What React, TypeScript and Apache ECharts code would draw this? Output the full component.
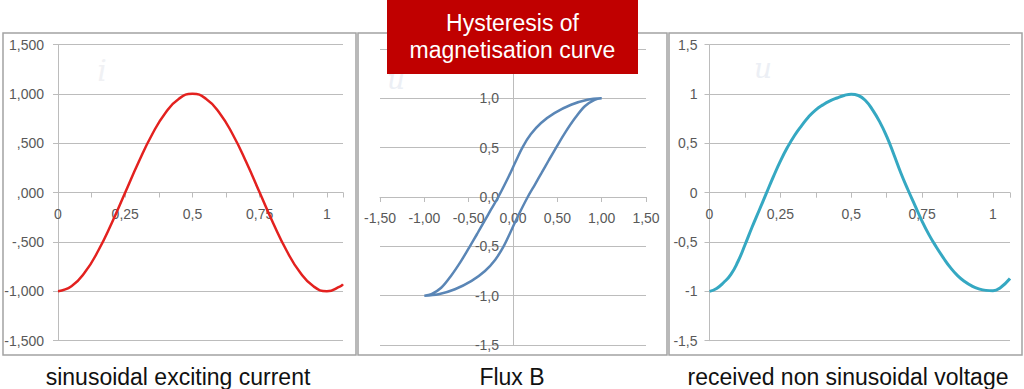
import React, { useEffect, useRef } from "react";
import * as echarts from "echarts";

// ---- Panel 1: sinusoidal exciting current ----
const currentX = [0, 0.05, 0.1, 0.15, 0.2, 0.25, 0.3, 0.35, 0.4, 0.45, 0.5, 0.55, 0.6, 0.65, 0.7, 0.75, 0.8, 0.85, 0.9, 0.95, 1.0, 1.05, 1.06];
const currentY = [-1, -0.951, -0.809, -0.588, -0.309, 0, 0.309, 0.588, 0.809, 0.951, 1, 0.951, 0.809, 0.588, 0.309, 0, -0.309, -0.588, -0.809, -0.951, -1, -0.951, -0.93];
const yLabels1 = ["-1,500", "-1,000", "-,500", ",000", ",500", "1,000", "1,500"];
const xLabels1 = ["0", "0,25", "0,5", "0,75", "1"];

// ---- Panel 2: hysteresis loop (descending branch, then ascending branch) ----
const downX = [1.0, 0.84, 0.655, 0.467, 0.316, 0.2, 0.109, 0.03, -0.05, -0.166, -0.249, -0.324, -0.405, -0.493, -0.588, -0.7, -0.81, -0.92, -1.0];
const downY = [1.0, 0.986, 0.935, 0.85, 0.75, 0.635, 0.506, 0.36, 0.205, 0, -0.129, -0.247, -0.375, -0.51, -0.652, -0.8, -0.92, -0.985, -1.0];
const upX = [-1.0, -0.84, -0.655, -0.467, -0.316, -0.2, -0.109, -0.03, 0.05, 0.166, 0.249, 0.324, 0.405, 0.493, 0.588, 0.7, 0.81, 0.92, 1.0];
const upY = [-1.0, -0.986, -0.935, -0.85, -0.75, -0.635, -0.506, -0.36, -0.205, 0, 0.129, 0.247, 0.375, 0.51, 0.652, 0.8, 0.92, 0.985, 1.0];
const yLabels2 = ["-1,5", "-1,0", "-0,5", "0,0", "0,5", "1,0", "1,5"];
const xLabels2 = ["-1,50", "-1,00", "-0,50", "0,00", "0,50", "1,00", "1,50"];

// ---- Panel 3: received non sinusoidal voltage ----
const voltX = [0, 0.025, 0.05, 0.075, 0.1, 0.125, 0.15, 0.175, 0.2, 0.225, 0.25, 0.275, 0.3, 0.325, 0.35, 0.375, 0.4, 0.425, 0.45, 0.475, 0.5, 0.525, 0.55, 0.575, 0.6, 0.625, 0.65, 0.675, 0.7, 0.725, 0.75, 0.775, 0.8, 0.825, 0.85, 0.875, 0.9, 0.925, 0.95, 0.975, 1.0, 1.025, 1.06];
const voltY = [-1, -0.97, -0.91, -0.83, -0.7, -0.53, -0.35, -0.18, -0.01, 0.16, 0.32, 0.46, 0.58, 0.68, 0.77, 0.84, 0.89, 0.93, 0.96, 0.985, 0.998, 0.985, 0.935, 0.84, 0.72, 0.57, 0.39, 0.2, 0.03, -0.13, -0.29, -0.43, -0.55, -0.66, -0.76, -0.84, -0.9, -0.945, -0.975, -0.99, -0.993, -0.965, -0.87];
const yLabels3 = ["-1,5", "-1", "-0,5", "0", "0,5", "1", "1,5"];
const xLabels3 = ["0", "0,25", "0,5", "0,75", "1"];

const captions = ["sinusoidal exciting current", "Flux B", "received non sinusoidal voltage"];
const titleLines = ["Hysteresis of", "magnetisation curve"];

const FONT = "'Liberation Sans', Arial, sans-serif";
const LABEL_COLOR = "#595959";
const GRID_COLOR = "#bcbcbc";

function zip(xs: number[], ys: number[]) {
  return xs.map((x, i) => [x, ys[i]]);
}

function stepLabel(labels: string[], min: number, step: number) {
  return (v: number) => {
    const k = Math.round((v - min) / step);
    if (Math.abs(v - (min + k * step)) < 1e-6 && k >= 0 && k < labels.length) return labels[k];
    return "";
  };
}

function xAxisCfg(idx: number, min: number, max: number, interval: number, labels: string[], labelMin: number, labelStep: number) {
  return {
    type: "value",
    gridIndex: idx,
    position: "bottom",
    offset: -148,
    min,
    max,
    interval,
    axisLine: { show: true, onZero: false, lineStyle: { color: GRID_COLOR, width: 1 } },
    axisTick: { show: true, length: 5, lineStyle: { color: GRID_COLOR } },
    splitLine: { show: false },
    axisLabel: {
      color: LABEL_COLOR,
      fontSize: 14,
      fontFamily: FONT,
      margin: 14,
      formatter: stepLabel(labels, labelMin, labelStep),
    },
  };
}

function yAxisCfg(idx: number, labels: string[], tickLen: number, margin: number, offset: number, showMax: boolean) {
  return {
    type: "value",
    gridIndex: idx,
    position: "left",
    offset,
    min: -1.5,
    max: 1.5,
    interval: 0.5,
    axisLine: { show: true, onZero: false, lineStyle: { color: GRID_COLOR, width: 1 } },
    axisTick: { show: tickLen > 0, length: tickLen, lineStyle: { color: GRID_COLOR } },
    splitLine: { show: true, lineStyle: { color: GRID_COLOR, width: 1 } },
    axisLabel: {
      color: LABEL_COLOR,
      fontSize: 14,
      fontFamily: FONT,
      margin,
      showMaxLabel: showMax,
      formatter: stepLabel(labels, -1.5, 0.5),
    },
  };
}

export default function App() {
  const ref = useRef<HTMLDivElement>(null);

  useEffect(() => {
    if (!ref.current) return;
    const chart = echarts.init(ref.current, undefined, { renderer: "svg" });

    const option: any = {
      animation: false,
      backgroundColor: "#ffffff",
      grid: [
        { left: 58, top: 44.5, width: 285, height: 296 },
        { left: 380, top: 49, width: 266, height: 296 },
        { left: 709.5, top: 44.7, width: 300.5, height: 296 },
      ],
      xAxis: [
        xAxisCfg(0, 0, 1.06, 0.125, xLabels1, 0, 0.25),
        xAxisCfg(1, -1.5, 1.5, 0.5, xLabels2, -1.5, 0.5),
        xAxisCfg(2, 0, 1.06, 0.125, xLabels3, 0, 0.25),
      ],
      yAxis: [
        yAxisCfg(0, yLabels1, 5, 14, 0, true),
        yAxisCfg(1, yLabels2, 0, 14, -133, false),
        yAxisCfg(2, yLabels3, 5, 12, 0, true),
      ],
      series: [
        {
          type: "line",
          xAxisIndex: 0,
          yAxisIndex: 0,
          data: zip(currentX, currentY),
          smooth: true,
          showSymbol: false,
          lineStyle: { color: "#e3211f", width: 2.5 },
        },
        {
          type: "line",
          xAxisIndex: 1,
          yAxisIndex: 1,
          data: [...zip(downX, downY), ...zip(upX, upY).slice(1)],
          smooth: 0.35,
          showSymbol: false,
          lineStyle: { color: "#5a86b6", width: 2.5 },
        },
        {
          type: "line",
          xAxisIndex: 2,
          yAxisIndex: 2,
          data: zip(voltX, voltY),
          smooth: true,
          showSymbol: false,
          lineStyle: { color: "#35a8c2", width: 3 },
        },
      ],
      graphic: [
        // panel borders
        { type: "rect", shape: { x: 3, y: 33, width: 353, height: 322 }, style: { fill: "none", stroke: "#a3a3a3", lineWidth: 1.5 }, z: 5 },
        { type: "rect", shape: { x: 358, y: 33, width: 309, height: 322 }, style: { fill: "none", stroke: "#a3a3a3", lineWidth: 1.5 }, z: 5 },
        { type: "rect", shape: { x: 669, y: 33, width: 353, height: 322 }, style: { fill: "none", stroke: "#a3a3a3", lineWidth: 1.5 }, z: 5 },
        // faint symbol letters
        { type: "text", x: 102, y: 70, style: { text: "i", fill: "#f0f1f4", font: "italic 30px 'DejaVu Serif', serif", align: "center", verticalAlign: "middle" }, z: 1 },
        { type: "text", x: 396, y: 79, style: { text: "u", fill: "#eceff5", font: "italic 28px 'DejaVu Serif', serif", align: "center", verticalAlign: "middle" }, z: 1 },
        { type: "text", x: 763, y: 68, style: { text: "u", fill: "#eceff5", font: "italic 28px 'DejaVu Serif', serif", align: "center", verticalAlign: "middle" }, z: 1 },
        // title box
        { type: "rect", shape: { x: 387, y: 0, width: 251, height: 74 }, style: { fill: "#c00000" }, z: 100 },
        { type: "text", x: 512.5, y: 23, style: { text: titleLines[0], fill: "#ffffff", font: `23px ${FONT}`, align: "center", verticalAlign: "middle" }, z: 101 },
        { type: "text", x: 512.5, y: 50, style: { text: titleLines[1], fill: "#ffffff", font: `23px ${FONT}`, align: "center", verticalAlign: "middle" }, z: 101 },
        // captions
        { type: "text", x: 178, y: 377, style: { text: captions[0], fill: "#111111", font: `23px ${FONT}`, align: "center", verticalAlign: "middle" }, z: 10 },
        { type: "text", x: 512, y: 377, style: { text: captions[1], fill: "#111111", font: `23px ${FONT}`, align: "center", verticalAlign: "middle" }, z: 10 },
        { type: "text", x: 848, y: 377, style: { text: captions[2], fill: "#111111", font: `23px ${FONT}`, align: "center", verticalAlign: "middle" }, z: 10 },
      ],
    };

    chart.setOption(option);
    return () => chart.dispose();
  }, []);

  return (
    <div
      ref={ref}
      style={{ position: "fixed", left: 0, top: 0, width: 1024, height: 389, background: "#fff" }}
    />
  );
}
